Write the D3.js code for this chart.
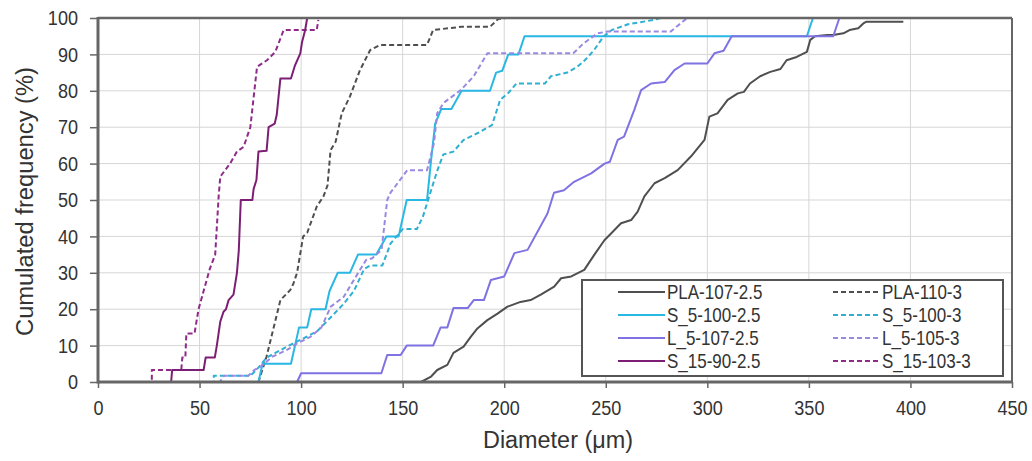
<!DOCTYPE html>
<html>
<head>
<meta charset="utf-8">
<script src="https://cdn.jsdelivr.net/npm/d3@7/dist/d3.min.js"></script>
<style>
  html, body { margin: 0; padding: 0; background: #fff; }
  svg { display: block; font-family: "Liberation Sans", Arial, sans-serif; }
</style>
</head>
<body>
<svg id="chart" width="1032" height="461"></svg>
<script>
// ---- Data (diameter in µm, cumulated frequency in %) ----
const xTicks = [0, 50, 100, 150, 200, 250, 300, 350, 400, 450];
const yTicks = [0, 10, 20, 30, 40, 50, 60, 70, 80, 90, 100];

const pla107_25 = [[0,0],[159,0],[164,1.5],[167,3.3],[172,4.7],[175,8],[180,9.7],[183.5,12.4],[186.8,14.7],[191.7,17],[196.7,18.8],[201.6,20.7],[208,22],[213,22.5],[218,24],[224.6,26.2],[228,28.5],[233,29],[239.4,30.8],[244.4,35],[249.4,39],[252.6,40.8],[257.5,43.6],[262.5,44.5],[265.7,46.8],[269,51],[274,54.6],[279,56],[285.4,58.2],[292,62],[298.6,66.5],[301,72.9],[305,73.8],[310,77.5],[315,79.3],[318,79.7],[321,82],[326,84],[331,85.2],[336,86],[339,88.4],[344,89.3],[349,90.7],[350.7,94],[353,95],[359,95.3],[362,95.3],[367,95.8],[370,96.7],[374.3,97.2],[376.8,98.5],[378.4,99],[396.5,99]];

const pla110_3 = [[0,0],[79,0],[83,7],[89.8,22.5],[94.7,25.3],[96.2,27],[98,30],[101,40],[103,41],[107.7,48.2],[111,51],[113,54],[114.5,63.7],[117,66],[120,73.8],[124,78.4],[129,85.7],[134,91.2],[139,92.6],[162,92.6],[165,96.7],[179,97.6],[193,97.6],[197,99.7],[201,100]];

const s5_100_25 = [[0,0],[79,0],[81,5],[95,5],[99,15],[103,15],[105,20],[112,20],[114,25],[118,30],[124,30],[128,35],[137,35],[142,40],[148,40],[152,50],[162,50],[164,61],[166,71],[169,75],[174,75],[179,80],[193,80],[196,85],[199,85.5],[202,90],[207,90],[210,95],[349,95],[352,100]];

const s5_100_3 = [[0,0],[57,0],[57,1.7],[75,1.7],[78,3.3],[83,6.7],[94,10],[103,12.5],[108,14],[115,18],[121,21.5],[126,25],[131,31],[134,32],[140,32],[144,38],[150,42],[157,42],[160,45.5],[164,52.7],[167,58],[170,62.5],[175,63.3],[180,66.5],[187,68.4],[194,70.6],[198,77.5],[202,79.4],[206,82],[220,82],[223,84],[231,85],[236,86.6],[239,88],[244,91],[249,95],[253,96.7],[261,98.3],[274,99.5],[277,100]];

const l5_107_25 = [[0,0],[98,0],[100,2.4],[139.5,2.4],[142.4,7.4],[149,7.4],[152,10],[165,10],[168.7,15],[172,15],[175,20.3],[182,20.3],[185,22.5],[190,22.5],[193.4,28],[200,29],[205,35.4],[211.5,36.3],[221.3,46.3],[224.5,52],[229.4,52.7],[234.4,55],[242.8,57.3],[249.4,60],[252,60.5],[255.9,66.5],[259,67.4],[264,74.7],[267.4,80.2],[272.3,82],[279,82.4],[283.8,85.7],[288.8,87.5],[300,87.5],[303.5,90.3],[308,91],[312,95],[362,95],[365,100]];

const l5_105_3 = [[0,0],[60,0],[62,1.7],[74,1.7],[77,3.3],[80,4.2],[86,7],[93,8.8],[98,10.6],[104.6,12.4],[110,15],[114.6,20.7],[121,23.4],[127,29],[132,33.5],[135,34],[139.6,36.3],[142.4,50],[144,52],[152.3,58.2],[162,58.2],[165.4,65.6],[167,73.8],[170,76.6],[178.6,80.2],[185,84],[191.7,90.3],[234,90.3],[239,93],[246,95.8],[251,96.3],[282,96.3],[289,99.5],[291,100]];

const s15_90_25 = [[0,0],[36,0],[36.5,3.3],[52,3.3],[53,6.7],[57.5,6.7],[58.5,10],[60.2,16.6],[61.8,19.3],[63,20],[64.3,22.5],[66.7,24],[68.4,30],[69.3,36],[70.3,50],[76,50],[76.6,53],[78,55.5],[79,63.3],[83,63.5],[84,70],[87,71],[88,73.4],[89.8,83.4],[95,83.4],[97,87],[99.6,90.3],[100.5,93.5],[102,96.7],[103,100]];

const s15_103_3 = [[0,0],[26.5,0],[26.5,3.3],[41,3.3],[41.5,6.7],[43,6.7],[43.5,13.3],[47.5,13.3],[49.5,20],[52,25],[55,31],[57.7,35],[59.4,51],[60.2,56.4],[65,60],[68.4,63.3],[71.7,64.6],[75,70],[78.3,86.6],[83.2,88.4],[87.3,90.7],[91.4,96.7],[107.7,96.7],[108.5,99.5]];

const seriesNames = ["PLA-107-2.5","PLA-110-3","S_5-100-2.5","S_5-100-3","L_5-107-2.5","L_5-105-3","S_15-90-2.5","S_15-103-3"];
const seriesData = [pla107_25, pla110_3, s5_100_25, s5_100_3, l5_107_25, l5_105_3, s15_90_25, s15_103_3];
const seriesColors = ["#4f4f4f","#4f4f4f","#29b7e4","#2fb0d2","#7f72e2","#9a88e2","#7c1f74","#8f2a88"];
const seriesDashed = [false, true, false, true, false, true, false, true];
const drawOrder = [0, 1, 2, 3, 4, 5, 7, 6];

// ---- Layout ----
const svg = d3.select("#chart");
const L = 98, R = 1012, T = 18, B = 382;
const x = d3.scaleLinear().domain([0, 450]).range([L, R]);
const y = d3.scaleLinear().domain([0, 100]).range([B, T]);
const SX = 0.86;

function condense(sel, sx) {
  sel.each(function () {
    const t = d3.select(this);
    const xv = +t.attr("x") || 0;
    t.attr("x", xv / sx).attr("transform", `scale(${sx},1)`);
  });
}

// grid
const grid = svg.append("g");
grid.selectAll("line.v").data(xTicks.filter(d => d > 0 && d < 450)).join("line")
  .attr("x1", d => x(d)).attr("x2", d => x(d)).attr("y1", T).attr("y2", B)
  .attr("stroke", "#d6d6d6").attr("stroke-width", 1);
grid.selectAll("line.h").data(yTicks.filter(d => d > 0 && d < 100)).join("line")
  .attr("x1", L).attr("x2", R).attr("y1", d => y(d)).attr("y2", d => y(d))
  .attr("stroke", "#d6d6d6").attr("stroke-width", 1);

// axes
const yAxis = svg.append("g").attr("transform", `translate(${L},0)`)
  .call(d3.axisLeft(y).tickValues(yTicks).tickSize(8).tickPadding(12));
const xAxis = svg.append("g").attr("transform", `translate(0,${B})`)
  .call(d3.axisBottom(x).tickValues(xTicks).tickSize(6).tickPadding(12.5));
[yAxis, xAxis].forEach(a => {
  a.select(".domain").remove();
  a.selectAll(".tick line").attr("stroke", "#666").attr("stroke-width", 1.5);
  a.selectAll(".tick text").attr("fill", "#333").attr("font-size", 21)
    .attr("font-family", "Liberation Sans, Arial, sans-serif");
});
condense(yAxis.selectAll(".tick text"), SX);
condense(xAxis.selectAll(".tick text"), SX);

// lines
const lineGen = d3.line().x(d => x(d[0])).y(d => y(d[1]));
const linesG = svg.append("g");
drawOrder.forEach(i => {
  linesG.append("path").datum(seriesData[i])
    .attr("d", lineGen)
    .attr("fill", "none")
    .attr("stroke", seriesColors[i])
    .attr("stroke-width", 2)
    .attr("stroke-linejoin", "round")
    .attr("stroke-dasharray", seriesDashed[i] ? "5,3" : null);
});

// frame
svg.append("line").attr("x1", L).attr("x2", R).attr("y1", T).attr("y2", T).attr("stroke", "#666").attr("stroke-width", 2.5);
svg.append("line").attr("x1", R).attr("x2", R).attr("y1", T).attr("y2", B).attr("stroke", "#666").attr("stroke-width", 2);
svg.append("line").attr("x1", L).attr("x2", L).attr("y1", T - 1).attr("y2", B + 1.5).attr("stroke", "#666").attr("stroke-width", 3);
svg.append("line").attr("x1", L).attr("x2", R + 1).attr("y1", B).attr("y2", B).attr("stroke", "#666").attr("stroke-width", 3);

// legend
const lg = svg.append("g");
lg.append("rect").attr("x", 582).attr("y", 280).attr("width", 421).attr("height", 96)
  .attr("fill", "#fff").attr("stroke", "#555").attr("stroke-width", 2);
seriesNames.forEach((name, i) => {
  const col = i % 2, row = Math.floor(i / 2);
  const ly = 292 + row * 23;
  const lx = col === 0 ? 618 : 833;
  lg.append("line").attr("x1", lx).attr("x2", lx + 47).attr("y1", ly).attr("y2", ly)
    .attr("stroke", seriesColors[i]).attr("stroke-width", 2)
    .attr("stroke-dasharray", seriesDashed[i] ? "5,3" : null);
  lg.append("text").attr("x", lx + 49).attr("y", ly + 7).text(name)
    .attr("font-size", 20).attr("fill", "#333");
});
condense(lg.selectAll("text"), 0.85);

// titles
svg.append("text").attr("transform", "translate(33,201.5) rotate(-90)")
  .attr("text-anchor", "middle").attr("font-size", 23).attr("fill", "#333")
  .attr("textLength", 269).attr("lengthAdjust", "spacingAndGlyphs")
  .text("Cumulated frequency (%)");
svg.append("text").attr("x", 558).attr("y", 448)
  .attr("text-anchor", "middle").attr("font-size", 23).attr("fill", "#333")
  .attr("textLength", 150).attr("lengthAdjust", "spacingAndGlyphs")
  .text("Diameter (μm)");
</script>
</body>
</html>
